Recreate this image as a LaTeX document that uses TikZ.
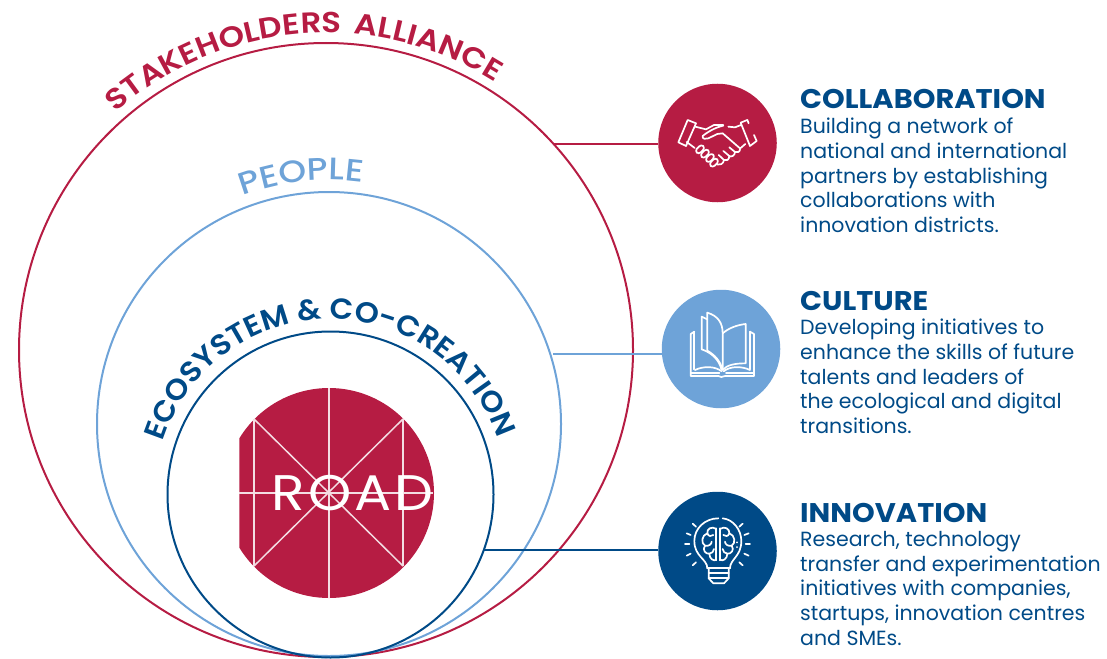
\documentclass[tikz,border=0pt]{standalone}
\usepackage{fontspec}
\setmainfont{Poppins}
\newfontfamily\arcfont[FakeStretch=1.12]{Poppins SemiBold}
\newfontfamily\pplfont[FakeStretch=1.14]{Poppins Medium}
\newfontfamily\ecofont[FakeStretch=1.06]{Poppins SemiBold}
\newfontfamily\headfont[FakeStretch=1.07]{Poppins Bold}
\newfontfamily\bodyfont{Poppins}
\newfontfamily\roadfont[LetterSpace=6,FakeStretch=1.1]{Poppins}
\usetikzlibrary{decorations.text}
\definecolor{crim}{HTML}{B61C43}
\definecolor{sky}{HTML}{6EA3D8}
\definecolor{navy}{HTML}{004A87}
\tikzset{
  ring/.style={draw=#1,line width=2pt,circle,inner sep=0pt,fill=none},
  badge/.style={fill=#1,circle,inner sep=0pt,minimum size=118.5pt},
  link/.style={draw=#1,line width=2pt},
  ico/.style={draw=white,line width=1.7pt,line cap=round,line join=round},
  head/.style={anchor=base west,inner sep=0pt,text=navy,font=\headfont\fontsize{27}{27}\selectfont},
  body/.style={anchor=north west,inner sep=0pt,text=navy,align=left,font=\bodyfont\fontsize{20.5}{24.7}\selectfont},
  spoke/.style={draw=white!85!crim,line width=1.5pt},
}
\begin{document}
\begin{tikzpicture}[x=1pt,y=-1pt]
\useasboundingbox (0,0) rectangle (1107,658);
% rings
\node[ring=crim,minimum size=614pt] (stake) at (326,350) {};
\node[ring=sky,minimum size=464pt] (people) at (329,424) {};
\node[ring=navy,minimum size=326pt] (eco) at (330.5,494.5) {};
% arc labels
\path[postaction={decorate,decoration={text along path,text align=center,
  text={|\arcfont\fontsize{29}{29}\selectfont\color{crim}|STAKEHOLDERS}}}]
  ([shift={(131:317pt)}]326,350) arc[start angle=131,end angle=87.7,radius=317pt];
\path[postaction={decorate,decoration={text along path,text align=center,
  text={|\arcfont\fontsize{29}{29}\selectfont\color{crim}|ALLIANCE}}}]
  ([shift={(85.1:317pt)}]326,350) arc[start angle=85.1,end angle=57.6,radius=317pt];
\path[postaction={decorate,decoration={text along path,text align=center,
  text={|\pplfont\fontsize{31}{31}\selectfont\color{sky}|PEOPLE}}}]
  ([shift={(110.6:244pt)}]329,424) arc[start angle=110.6,end angle=82.2,radius=244pt];
\path[postaction={decorate,decoration={text along path,text align=center,
  text={|\ecofont\fontsize{29}{29}\selectfont\color{navy}|ECOSYSTEM {\&} CO-CREATION}}}]
  ([shift={(162:176pt)}]330.5,495) arc[start angle=162,end angle=19,radius=176pt];
% ROAD disc
\begin{scope}
\clip (239.3,380) rectangle (440,605);
\fill[crim] (329,493) circle[radius=105pt];
\end{scope}
\draw[spoke] (239.3,493) -- (433,493);
\draw[spoke] (329,388) -- (329,598);
\draw[spoke] (254,419) -- (403,566);
\draw[spoke] (403,419) -- (254,566);
\draw[spoke] (254,419) -- (254,566);
\draw[spoke] (403,419) -- (403,566);
\node[inner sep=0pt,text=white,font=\roadfont\fontsize{50}{50}\selectfont] (road) at (352.5,493) {ROAD};
% badges
\node[badge=crim] (bc) at (717.5,143) {};
\node[badge=sky] (bk) at (721,349) {};
\node[badge=navy] (bi) at (717.5,551) {};
% connectors
\coordinate (c1) at (553.6,144);
\coordinate (c2) at (553,354);
\coordinate (c3) at (484,550);
\draw[link=crim] (c1) -- (c1 -| bc.west);
\draw[link=sky] (c2) -- (c2 -| bk.west);
\draw[link=navy] (c3) -- (c3 -| bi.west);
% handshake
\begin{scope}[shift={(640pt,-70pt)},x=0.3333pt,y=-0.3333pt,ico]
\draw (143,150)--(168,160)--(138,228)--(115,217)--cycle;
\draw (322,150)--(302,158)--(330,228)--(350,213)--(342,195);
\draw (326,160)--(322,150);
\draw (166,170)--(198,178)--(222,165)--(250,165);
\draw (250,167) .. controls (225,172) and (200,188) .. (188,198) .. controls (186,208) and (198,208) .. (205,205) -- (232,192) -- (248,190) -- (300,235) .. controls (302,245) and (292,250) .. (285,246) -- (268,232);
\draw (265,170)--(285,172)--(303,165);
\draw (302,234)--(316,222);
\draw (140,216)--(164,234);
\draw (285,246) .. controls (285,258) and (272,262) .. (268,258) -- (250,243);
\draw (268,258) .. controls (268,270) and (258,274) .. (252,270) -- (236,255);
\draw (252,270) .. controls (250,282) and (240,286) .. (232,284);
\foreach \cx/\cy in {180/238,195/251,210/264,222/278}
  \draw[rotate around={45:(\cx,\cy)},rounded corners=3pt] (\cx-14,\cy-8) rectangle (\cx+14,\cy+8);
\end{scope}
% book
\begin{scope}[shift={(650pt,-280pt)},x=0.3333pt,y=-0.3333pt,ico]
\draw (133,155)--(122,162)--(122,288)--(205,288) .. controls (210,292) and (218,292) .. (225,288) -- (312,288)--(312,162)--(300,155);
\draw (133,155)--(133,268);
\draw (300,155)--(300,268);
\draw (155,110)--(155,208) .. controls (185,218) and (208,240) .. (214,268);
\draw (155,110)--(172,118);
\draw (172,98)--(172,212) .. controls (195,225) and (212,245) .. (217,268);
\draw (172,98) .. controls (205,108) and (218,130) .. (218,160) -- (218,270);
\draw (218,160) .. controls (235,145) and (260,135) .. (287,132) -- (287,250) .. controls (255,250) and (230,255) .. (218,270);
\draw (135,270) .. controls (160,258) and (195,258) .. (215,274);
\draw (221,274) .. controls (240,258) and (275,258) .. (300,270);
\draw (122,278)--(208,278);
\draw (228,278)--(312,278);
\end{scope}
% bulb
\begin{scope}[shift={(650pt,-485pt)},x=0.3333pt,y=-0.3333pt,ico]
\draw (172,250) .. controls (172,222) and (133,215) .. (133,168) .. controls (133,130) and (165,100) .. (205,100);
\draw (218,100) .. controls (250,103) and (274,135) .. (274,168) .. controls (274,215) and (240,222) .. (240,250);
\draw (172,250)--(240,250);
\draw (176,265)--(236,265);
\draw (176,250)--(176,280) -- (190,295) -- (222,295) -- (236,280) -- (236,250);
\draw (176,280)--(236,280);
\foreach \ax/\ay/\bx/\by in {128/116/138/125,110/145/122/150,105/178/118/178,110/212/122/206,128/241/138/232,
  278/116/268/125,296/145/283/150,300/178/287/178,296/212/283/206,278/241/268/232}
  \draw (\ax,\ay)--(\bx,\by);
\draw (262,172)--(262,172.5) (262,186)--(262,186.5);
\draw (199,130)--(199,226);
\draw (210,130)--(210,226);
\draw (199,132) .. controls (185,122) and (170,132) .. (172,145) .. controls (155,150) and (152,175) .. (165,182) .. controls (155,195) and (168,208) .. (178,206) .. controls (178,222) and (192,230) .. (199,224);
\draw (210,132) .. controls (224,122) and (240,132) .. (238,145) .. controls (255,150) and (258,175) .. (245,182) .. controls (255,195) and (242,208) .. (232,206) .. controls (232,222) and (218,230) .. (210,224);
\draw (172,145) .. controls (175,155) and (185,155) .. (190,150);
\draw (238,145) .. controls (235,155) and (225,155) .. (220,150);
\draw (165,182) .. controls (175,185) and (185,178) .. (185,170);
\draw (245,182) .. controls (235,185) and (225,178) .. (225,170);
\draw (178,206) .. controls (185,205) and (192,200) .. (192,192);
\draw (232,206) .. controls (225,205) and (218,200) .. (218,192);
\end{scope}
% texts
\node[head] (h1) at (800,109) {COLLABORATION};
\node[body] (t1) at (800,118) {Building a network of\\national and international\\partners by establishing\\collaborations with\\innovation districts.};
\node[head] (h2) at (800,310) {CULTURE};
\node[body] (t2) at (800,319) {Developing initiatives to\\enhance the skills of future\\talents and leaders of\\the ecological and digital\\transitions.};
\node[head] (h3) at (800,522) {INNOVATION};
\node[body] (t3) at (800,531) {Research, technology\\transfer and experimentation\\initiatives with companies,\\startups, innovation centres\\and SMEs.};
\end{tikzpicture}
\end{document}
